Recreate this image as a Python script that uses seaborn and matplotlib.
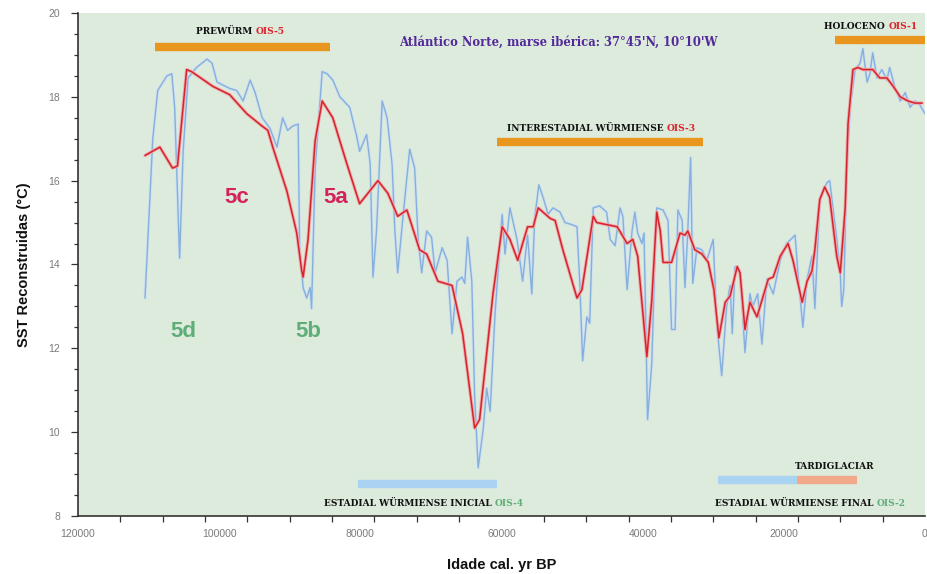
import pandas as pd
import matplotlib
matplotlib.use("Agg")
import matplotlib.pyplot as plt
from matplotlib.ticker import MultipleLocator
import seaborn as sns

# Raw SST record (yr BP, degC)
blue_age = [110500, 109400, 108700, 107400, 106700, 106300, 105600, 105100, 104400, 103200,
            101700, 101000, 100300, 98500, 97500, 96600, 95600, 94900, 93900, 92800,
            91800, 91000, 90300, 89600, 88800, 88600, 88100, 87600, 87100, 86900,
            86400, 85400, 84700, 83900, 82900, 81500, 80500, 80100, 79100, 78600,
            78200, 77700, 76900, 76200, 75500, 75100, 74700, 74000, 73000, 72300,
            71800, 71300, 70600, 69900, 69400, 68400, 67700, 67000, 66300, 65600,
            65200, 64800, 64200, 63800, 63300, 62600, 62100, 61600, 60900, 59900,
            59500, 58800, 57800, 57000, 56300, 55700, 55300, 54700, 54100, 53400,
            52700, 51700, 51000, 50000, 49300, 48900, 48500, 47900, 47500, 47000,
            46100, 45100, 44600, 43900, 43200, 42800, 42200, 41500, 41100, 40700,
            40100, 39800, 39300, 38700, 38300, 38000, 37100, 36400, 35900, 35400,
            35000, 34400, 34000, 33600, 33200, 32900, 32300, 31600, 30900, 30000,
            29500, 28800, 28100, 27600, 27300, 26900, 26200, 25500, 24800, 24400,
            23700, 23100, 22400, 21500, 20500, 19600, 18400, 18000, 17300, 16700,
            16000, 15600, 14900, 13900, 13500, 12500, 12000, 11800, 11500, 11100,
            10600, 9900, 9200, 8800, 8200, 7800, 7400, 6800, 6100, 5400,
            5000, 4300, 3500, 2800, 2100, 1400, 700, 0]
blue_sst = [13.2, 17.0, 18.15, 18.5, 18.55, 17.75, 14.15, 16.7, 18.45, 18.7,
            18.9, 18.8, 18.35, 18.2, 18.15, 17.9, 18.4, 18.1, 17.5, 17.25,
            16.8, 17.5, 17.2, 17.3, 17.35, 14.4, 13.45, 13.2, 13.45, 12.95,
            16.3, 18.6, 18.55, 18.4, 18.0, 17.75, 17.05, 16.7, 17.1, 16.4,
            13.7, 14.8, 17.9, 17.5, 16.4, 14.8, 13.8, 15.05, 16.75, 16.3,
            14.6, 13.8, 14.8, 14.65, 13.8, 14.4, 14.1, 12.35, 13.6, 13.7,
            13.55, 14.65, 13.6, 10.85, 9.15, 10.05, 11.05, 10.5, 12.85, 15.2,
            14.25, 15.35, 14.6, 13.6, 14.7, 13.3, 15.1, 15.9, 15.6, 15.2,
            15.35, 15.25, 15.0, 14.95, 14.9, 13.55, 11.7, 12.75, 12.6, 15.35,
            15.4, 15.25, 14.6, 14.45, 15.35, 15.15, 13.4, 14.8, 15.25, 14.75,
            14.5, 14.75, 10.3, 11.65, 13.95, 15.35, 15.3, 15.05, 12.45, 12.45,
            15.3, 15.05, 13.45, 14.8, 16.55, 13.55, 14.4, 14.35, 14.1, 14.6,
            12.6, 11.35, 13.0, 13.5, 12.35, 13.95, 13.85, 11.9, 13.3, 13.0,
            13.3, 12.1, 13.65, 13.3, 14.1, 14.5, 14.7, 13.8, 12.5, 13.65,
            14.2, 12.95, 15.55, 15.95, 16.0, 14.6, 13.8, 13.0, 13.4, 16.2,
            17.75, 18.65, 18.8, 19.15, 18.35, 18.55, 19.05, 18.45, 18.65, 18.4,
            18.7, 18.25, 17.9, 18.1, 17.75, 17.9, 17.8, 17.6]

# Smoothed SST curve (yr BP, degC)
red_age = [110500, 108400, 106600, 105900, 104600, 103900, 100900, 98500, 96100, 93900,
           93100, 92400, 90400, 89000, 88300, 88100, 87400, 86400, 85400, 83900,
           81900, 80100, 77500, 76100, 74700, 73400, 71600, 70600, 69000, 67000,
           65500, 63800, 63100, 61200, 59900, 58800, 57700, 56300, 55500, 54800,
           53100, 52400, 51300, 49300, 48600, 47000, 46500, 43600, 42200, 41400,
           40700, 39400, 38700, 38000, 37500, 37100, 35900, 34700, 34000, 33600,
           32600, 31600, 30700, 29900, 29200, 28300, 27600, 26600, 26200, 25500,
           24800, 23800, 23000, 22200, 21500, 20500, 19400, 18700, 17400, 16700,
           16000, 15600, 14900, 14200, 13500, 12500, 12000, 11300, 10900, 10200,
           9500, 8800, 7400, 6400, 5400, 4500, 3500, 2400, 1400, 400]
red_sst = [16.6, 16.8, 16.3, 16.35, 18.65, 18.6, 18.25, 18.05, 17.6, 17.3,
           17.2, 16.8, 15.75, 14.75, 13.85, 13.7, 14.6, 16.95, 17.9, 17.5,
           16.4, 15.45, 16.0, 15.7, 15.15, 15.3, 14.35, 14.25, 13.6, 13.5,
           12.35, 10.1, 10.3, 13.3, 14.9, 14.6, 14.1, 14.9, 14.9, 15.35,
           15.1, 15.05, 14.35, 13.2, 13.4, 15.15, 15.0, 14.9, 14.5, 14.6,
           14.2, 11.8, 13.15, 15.25, 14.8, 14.05, 14.05, 14.75, 14.7, 14.8,
           14.35, 14.25, 14.05, 13.4, 12.25, 13.1, 13.25, 13.95, 13.8, 12.45,
           13.1, 12.75, 13.2, 13.65, 13.7, 14.2, 14.5, 14.1, 13.1, 13.6,
           13.85, 14.35, 15.55, 15.85, 15.6, 14.2, 13.8, 15.35, 17.35, 18.65,
           18.7, 18.65, 18.65, 18.45, 18.45, 18.25, 18.0, 17.9, 17.85, 17.85]

# Climatic periods shown as horizontal bars: (start, end, level, colour)
period_start = [109100, 60600, 12750, 80300, 29300, 18100]
period_end = [84300, 31500, -1000, 60600, 18100, 9600]
period_level = [19.19, 16.92, 19.36, 8.76, 8.85, 8.85]
period_color = ["#e8961e", "#e8961e", "#e8961e", "#a9d3f1", "#a9d3f1", "#f2a98a"]

# Period captions: (name, stage, split position, level, stage colour)
caption_name = ["PREWÜRM", "INTERESTADIAL WÜRMIENSE", "HOLOCENO",
                "ESTADIAL WÜRMIENSE INICIAL", "ESTADIAL WÜRMIENSE FINAL"]
caption_stage = ["OIS-5", "OIS-3", "OIS-1", "OIS-4", "OIS-2"]
caption_x = [94800, 36600, 5200, 60900, 6800]
caption_y = [19.55, 17.25, 19.67, 8.3, 8.3]
caption_color = ["#e0202a", "#e0202a", "#e0202a", "#5fae78", "#5fae78"]

# Substage labels
sub_label = ["5d", "5c", "5b", "5a"]
sub_x = [105100, 97500, 87400, 83500]
sub_y = [12.4, 15.6, 12.4, 15.6]
sub_color = ["#5fae78", "#d4235a", "#5fae78", "#d4235a"]

raw = pd.DataFrame({"age": blue_age, "sst": blue_sst})
smooth = pd.DataFrame({"age": red_age, "sst": red_sst})

sns.set_style("white")
plt.rcParams["font.family"] = ["Liberation Sans", "DejaVu Sans"]

fig = plt.figure(figsize=(9.27, 5.74), dpi=100)
ax = fig.add_axes([0.0841, 0.101, 0.9137, 0.8764])
ax.set_facecolor("#dcebdc")

sns.lineplot(data=raw, x="age", y="sst", ax=ax, color="#cfe1f1", lw=2.2, zorder=2)
sns.lineplot(data=raw, x="age", y="sst", ax=ax, color="#86b0dc", lw=1.0, zorder=3)
sns.lineplot(data=smooth, x="age", y="sst", ax=ax, color="#f2a9ab", lw=2.4, zorder=4)
sns.lineplot(data=smooth, x="age", y="sst", ax=ax, color="#d3242e", lw=1.1, zorder=5)

for s, e, lv, c in zip(period_start, period_end, period_level, period_color):
    ax.plot([s, e], [lv, lv], color=c, lw=6, solid_capstyle="butt", zorder=6, clip_on=True)

cap_font = dict(family="DejaVu Serif", weight="bold", stretch="condensed", fontsize=7.2)
for name, stage, x, y, c in zip(caption_name, caption_stage, caption_x, caption_y, caption_color):
    ax.text(x, y, name + " ", ha="right", va="center", color="#111111", zorder=7,
            clip_on=False, **cap_font)
    ax.text(x, y, stage, ha="left", va="center", color=c, zorder=7, clip_on=False, **cap_font)

ax.text(12750, 9.19, "TARDIGLACIAR", ha="center", va="center", color="#111111", **cap_font)

ax.text(51900, 19.3, "Atlántico Norte, marse ibérica: 37°45'N, 10°10'W", ha="center",
        va="center", color="#52289a", family="DejaVu Serif", weight="bold",
        stretch="condensed", fontsize=9.3)

for lab, x, y, c in zip(sub_label, sub_x, sub_y, sub_color):
    ax.text(x, y, lab, ha="center", va="center", color=c, fontsize=16, weight="bold")

ax.set_xlim(120000, 0)
ax.set_ylim(8, 20)
ax.set_xticks(range(120000, -1, -20000))
ax.set_xticklabels([str(v) for v in range(120000, -1, -20000)])
ax.xaxis.set_minor_locator(MultipleLocator(6000))
ax.yaxis.set_major_locator(MultipleLocator(2))
ax.yaxis.set_minor_locator(MultipleLocator(0.5))
ax.tick_params(axis="x", which="major", length=0, pad=9, labelsize=7.5, labelcolor="#7a7a7a")
ax.tick_params(axis="x", which="minor", length=4, width=0.9, color="#333333", direction="out",
               bottom=True)
ax.tick_params(axis="y", which="major", length=5, width=0.9, color="#333333", direction="out",
               labelsize=7.5, labelcolor="#7a7a7a", pad=8, left=True)
ax.tick_params(axis="y", which="minor", length=3, width=0.9, color="#333333", direction="out",
               left=True)

for side in ["top", "right"]:
    ax.spines[side].set_visible(False)
for side in ["left", "bottom"]:
    ax.spines[side].set_color("#333333")
    ax.spines[side].set_linewidth(1.2)

ax.set_xlabel("Idade cal. yr BP", fontsize=10.5, weight="bold", labelpad=14, color="#111111")
ax.set_ylabel("SST Reconstruidas (°C)", fontsize=10.5, weight="bold", labelpad=12, color="#111111")

fig.savefig("out.png", dpi=100, facecolor="white")
